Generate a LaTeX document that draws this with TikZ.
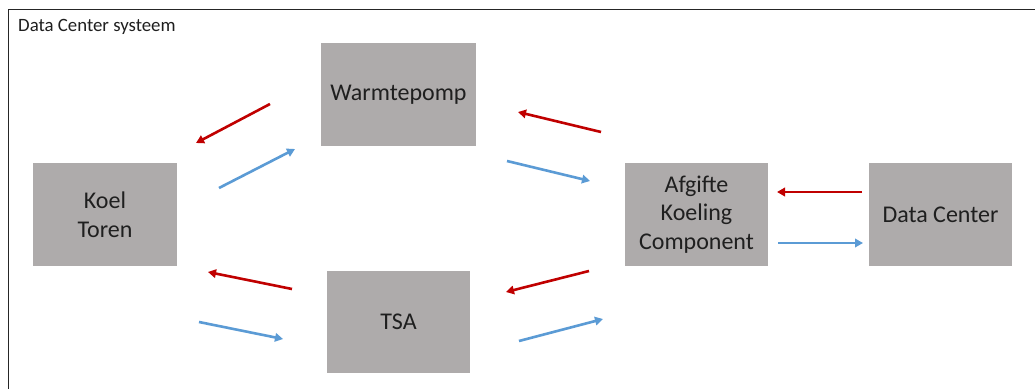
\documentclass[tikz,border=0pt]{standalone}
\usepackage{fontspec}
\setmainfont{Carlito}
\usetikzlibrary{arrows.meta}
\definecolor{boxgray}{RGB}{174,171,171}
\definecolor{flowred}{RGB}{192,0,0}
\definecolor{flowblue}{RGB}{91,155,213}
\tikzset{
  unit/.style={fill=boxgray, draw=none, inner sep=0pt, align=center,
    minimum height=103pt, text=black!88,
    font=\fontsize{24}{28.5}\selectfont},
  flow/.style={line width=2.6pt, -{Triangle[length=8pt,width=8.5pt]}},
  hot/.style={flow, draw=flowred},
  cold/.style={flow, draw=flowblue},
}
\begin{document}
\begin{tikzpicture}[x=1pt, y=-1pt]
  \clip (0,0) rectangle (1035,388);
  \fill[white] (0,0) rectangle (1035,388);
  % system boundary
  \draw[line width=1.4pt, black!85] (1045,9.5) -- (8.5,9.5) -- (8.5,400);
  \node[anchor=base west, inner sep=0pt, font=\fontsize{18.8}{22}\selectfont, text=black!88]
    (title) at (18,31) {Data Center systeem};

  % components
  \node[unit, minimum width=144pt] (koel) at (105,214.5) {Koel\\Toren};
  \node[unit, minimum width=155pt] (wp)   at (398.5,94.5) {Warmtepomp};
  \node[unit, minimum width=143pt, minimum height=102pt] (tsa) at (398.5,322) {TSA};
  \node[unit, minimum width=143pt] (afg)  at (696.5,214.5) {Afgifte\\Koeling\\Component};
  \node[unit, minimum width=143pt] (dc)   at (940.5,214.5) {Data Center};

  % arrow end points
  \coordinate (r1s) at (270,104);  \coordinate (r1e) at (196,143);
  \coordinate (b1s) at (219,188);  \coordinate (b1e) at (295,149);
  \coordinate (r2s) at (601,132);  \coordinate (r2e) at (518,112);
  \coordinate (b2s) at (507,161);  \coordinate (b2e) at (590,181);
  \coordinate (r3s) at (862,192);  \coordinate (r3e) at (777,192);
  \coordinate (b3s) at (778,243);  \coordinate (b3e) at (863,243);
  \coordinate (r4s) at (292,289);  \coordinate (r4e) at (208,272);
  \coordinate (b4s) at (199,322);  \coordinate (b4e) at (283,339);
  \coordinate (r5s) at (589,271);  \coordinate (r5e) at (506,292);
  \coordinate (b5s) at (519,341);  \coordinate (b5e) at (603,319);

  % return (warm) flows
  \draw[hot] (r1s) -- (r1e);
  \draw[hot] (r2s) -- (r2e);
  \draw[hot] (r3s) -- (r3e);
  \draw[hot] (r4s) -- (r4e);
  \draw[hot] (r5s) -- (r5e);
  % supply (cold) flows
  \draw[cold] (b1s) -- (b1e);
  \draw[cold] (b2s) -- (b2e);
  \draw[cold] (b3s) -- (b3e);
  \draw[cold] (b4s) -- (b4e);
  \draw[cold] (b5s) -- (b5e);
\end{tikzpicture}
\end{document}
